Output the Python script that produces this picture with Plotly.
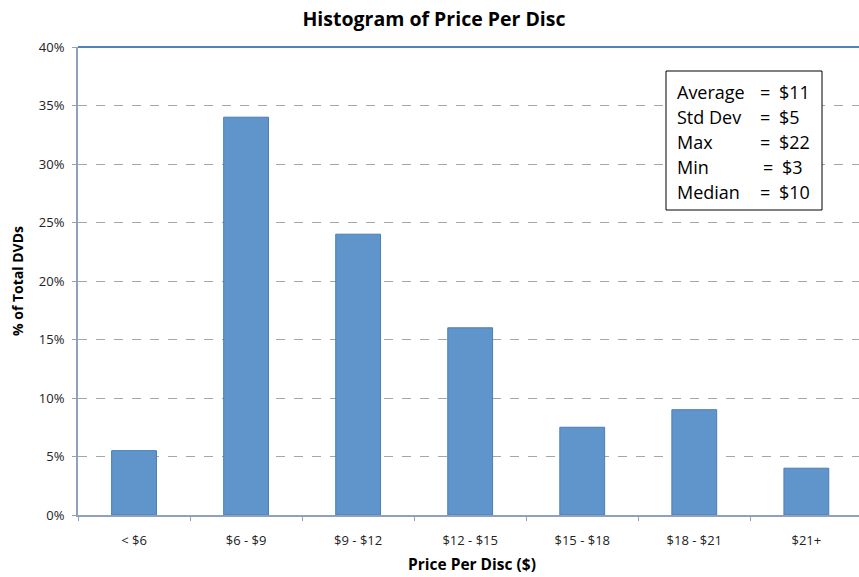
import plotly.graph_objects as go

# Price buckets and share of DVDs in each (percent)
categories = ["< $6", "$6 - $9", "$9 - $12", "$12 - $15", "$15 - $18", "$18 - $21", "$21+"]
share_pct = [5.5, 34, 24, 16, 7.5, 9, 4]

# Summary statistics shown in the inset box
stat_names = ["Average", "Std Dev", "Max", "Min", "Median"]
stat_values = ["$11", "$5", "$22", "$3", "$10"]

y_ticks = [0, 5, 10, 15, 20, 25, 30, 35, 40]

FONT = "Open Sans, Calibri, sans-serif"

fig = go.Figure()
fig.add_trace(go.Bar(
    x=categories,
    y=share_pct,
    width=0.4,
    marker=dict(color="#6095CB", line=dict(color="#4A7DB6", width=1)),
    hoverinfo="x+y",
))

fig.update_layout(
    width=859,
    height=577,
    margin=dict(l=78, r=0, t=47, b=62),
    paper_bgcolor="white",
    plot_bgcolor="white",
    showlegend=False,
    font=dict(family=FONT, size=13, color="#222222"),
    title=dict(
        text="<b>Histogram of Price Per Disc</b>",
        x=434 / 859, xanchor="center", xref="container",
        y=1 - 19 / 577, yanchor="middle",
        font=dict(size=19.5, family=FONT, color="#000000"),
    ),
    xaxis=dict(
        type="category",
        range=[-0.5, 6.47],
        showline=True, linecolor="#8FA2BC", linewidth=2,
        ticks="outside", tickson="boundaries", ticklen=4, tickcolor="#8FA2BC",
        ticklabelstandoff=12,
        showgrid=False,
        tickfont=dict(size=13, family=FONT, color="#222222"),
    ),
    yaxis=dict(
        range=[0, 40],
        tickvals=y_ticks,
        ticktext=[f"{v}%" for v in y_ticks],
        showline=True, linecolor="#8FA2BC", linewidth=2,
        ticks="outside", ticklen=4, tickcolor="#8FA2BC",
        ticklabelstandoff=5,
        showgrid=True, gridcolor="#A6A6A6", griddash="dash", gridwidth=1,
        zeroline=False,
        tickfont=dict(size=13, family=FONT, color="#222222"),
        title=dict(text="<b>% of Total DVDs</b>", standoff=12,
                   font=dict(size=14, family=FONT, color="#000000")),
    ),
    bargap=0.6,
)

# Blue frame line along the top of the plot area
fig.add_shape(type="line", xref="paper", yref="paper",
              x0=0, x1=1, y0=1, y1=1,
              line=dict(color="#4F81BD", width=2))

# Pixel -> paper helpers for the 781 x 468 plot area
px_w, px_h = 781.0, 468.0
def px_x(px):
    return (px - 78) / px_w
def px_y(py):
    return (515 - py) / px_h

# X axis title placed below the tick labels
fig.add_annotation(xref="paper", yref="paper", x=px_x(472), y=px_y(576),
                   text="<b>Price Per Disc ($)</b>", showarrow=False,
                   xanchor="center", yanchor="bottom", borderpad=0,
                   font=dict(size=15.5, family=FONT, color="#000000"))

# Inset statistics box
fig.add_shape(type="rect", xref="paper", yref="paper",
              x0=px_x(666), x1=px_x(822), y0=px_y(210), y1=px_y(71),
              line=dict(color="#000000", width=1), fillcolor="white")

STAT_FONT = dict(size=18, family=FONT, color="#000000")
for i, (name, val) in enumerate(zip(stat_names, stat_values)):
    yy = px_y(92 + 25 * i)
    shift = 3 if name == "Min" else 0
    fig.add_annotation(xref="paper", yref="paper", x=px_x(675), y=yy,
                       text=name, showarrow=False, xanchor="left", yanchor="middle",
                       font=STAT_FONT)
    fig.add_annotation(xref="paper", yref="paper", x=px_x(758 + shift), y=yy,
                       text="=", showarrow=False, xanchor="left", yanchor="middle",
                       font=STAT_FONT)
    fig.add_annotation(xref="paper", yref="paper", x=px_x(777 + shift), y=yy,
                       text=val, showarrow=False, xanchor="left", yanchor="middle",
                       font=STAT_FONT)

fig.write_html("out.html")
